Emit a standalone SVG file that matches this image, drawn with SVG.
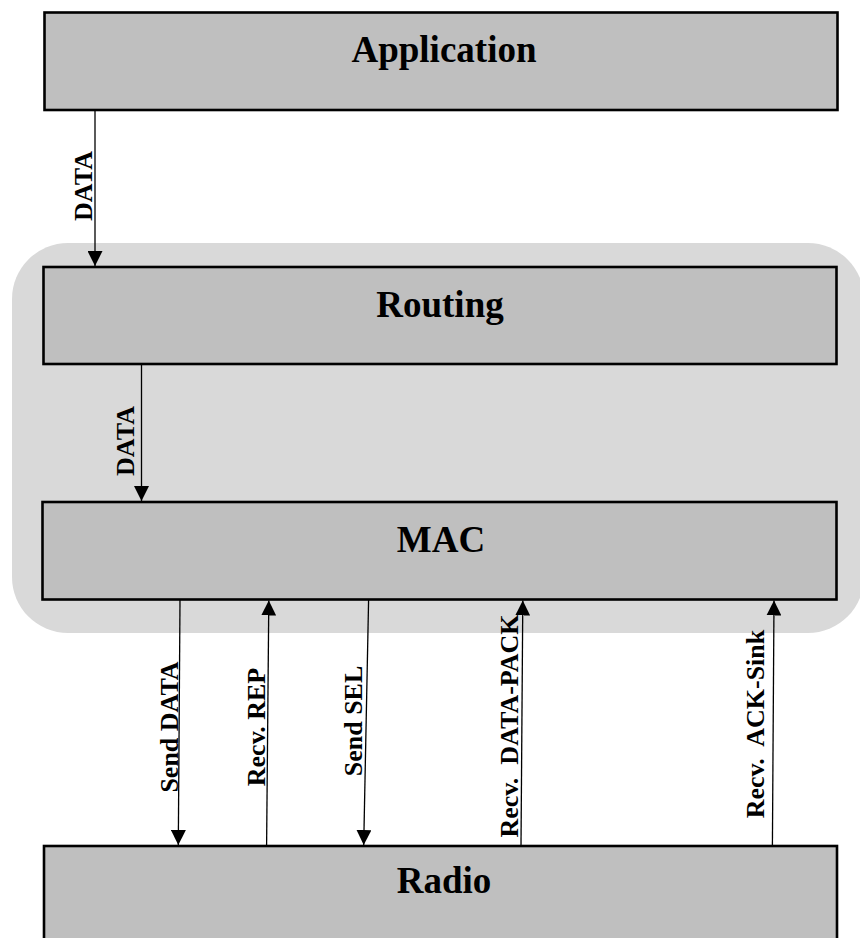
<svg xmlns="http://www.w3.org/2000/svg" width="860" height="938" viewBox="0 0 860 938">
  <style>
    .layer { fill: #bfbfbf; stroke: #000; stroke-width: 2.6; }
    .title { font-family: "Liberation Serif", "Times New Roman", serif; font-weight: bold; font-size: 37px; text-anchor: middle; fill: #000; }
    .wire { fill: none; stroke: #000; stroke-width: 1.3; marker-end: url(#head); }
    .tag { font-family: "Liberation Serif", "Times New Roman", serif; font-weight: bold; font-size: 26px; text-anchor: middle; fill: #000; white-space: pre; }
  </style>
  <defs>
    <marker id="head" markerUnits="userSpaceOnUse" markerWidth="15" markerHeight="15" refX="15" refY="7.5" orient="auto">
      <path d="M0,0 L15,7.5 L0,15 z" fill="#000"/>
    </marker>
  </defs>

  <rect width="860" height="938" fill="#fff"/>

  <!-- protocol stack shared by routing and MAC -->
  <rect id="stack" x="12" y="243" width="852" height="390" rx="56" ry="56" fill="#d9d9d9"/>

  <g id="application">
    <rect class="layer" x="44.5" y="12.5" width="793" height="97.5"/>
    <text class="title" x="444" y="62">Application</text>
  </g>

  <g id="routing">
    <rect class="layer" x="43.5" y="267" width="793" height="97"/>
    <text class="title" x="440" y="317">Routing</text>
  </g>

  <g id="mac">
    <rect class="layer" x="42.5" y="502" width="794" height="97.5"/>
    <text class="title" x="441" y="552">MAC</text>
  </g>

  <g id="radio">
    <rect class="layer" x="44" y="846" width="793" height="110"/>
    <text class="title" x="444" y="893">Radio</text>
  </g>

  <g id="connectors">
    <line class="wire" x1="95" y1="110" x2="95" y2="266"/>
    <text class="tag" transform="translate(91.5,186) rotate(-90)">DATA</text>

    <line class="wire" x1="141.5" y1="364" x2="141.5" y2="501"/>
    <text class="tag" transform="translate(134,441) rotate(-90)">DATA</text>

    <line class="wire" x1="180" y1="599.5" x2="178.3" y2="845"/>
    <text class="tag" transform="translate(178,727) rotate(-90)">Send DATA</text>

    <line class="wire" x1="266.6" y1="846" x2="268.8" y2="600.5"/>
    <text class="tag" transform="translate(265,727) rotate(-90)">Recv. REP</text>

    <line class="wire" x1="368.6" y1="599.5" x2="363.7" y2="845"/>
    <text class="tag" transform="translate(362,721) rotate(-90)">Send SEL</text>

    <line class="wire" x1="521" y1="846" x2="522.8" y2="600.5"/>
    <text class="tag" transform="translate(517.5,726) rotate(-90)">Recv.  DATA-PACK</text>

    <line class="wire" x1="772.4" y1="846" x2="774" y2="600.5"/>
    <text class="tag" transform="translate(763.5,724) rotate(-90)">Recv.  ACK-Sink</text>
  </g>
</svg>
